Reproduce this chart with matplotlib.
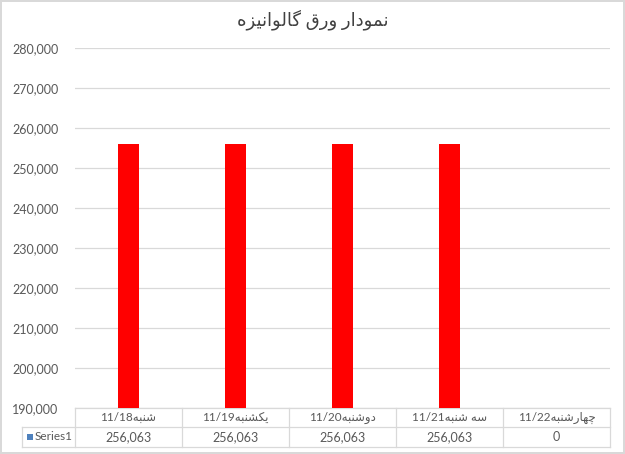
# -*- coding: utf-8 -*-
"""
Column chart with Excel-style data table underneath.
"""

import matplotlib.pyplot as plt
import matplotlib.transforms as mtransforms
import numpy as np
from matplotlib.patches import Rectangle

plt.rcParams['font.family'] = ['Lato', 'DejaVu Sans']

#-----------------------------------------------------------------------------------------------------------------------
# Data
title_fa = 'نمودار ورق گالوانیزه'
days = ['شنبه', 'یکشنبه', 'دوشنبه', 'سه شنبه', 'چهارشنبه']
dates = ['11/18', '11/19', '11/20', '11/21', '11/22']
series_name = 'Series1'
values = [256063, 256063, 256063, 256063, 0]
y_ticks = [190000, 200000, 210000, 220000, 230000, 240000, 250000, 260000, 270000, 280000]

#-----------------------------------------------------------------------------------------------------------------------
# Minimal Persian shaping (matplotlib has no complex text layout)
# letter: (isolated, final, initial, medial); None = does not join to the next letter
FORMS = {
    'ا': ('\uFE8D', '\uFE8E', None, None),
    'ب': ('\uFE8F', '\uFE90', '\uFE91', '\uFE92'),
    'د': ('\uFEA9', '\uFEAA', None, None),
    'ر': ('\uFEAD', '\uFEAE', None, None),
    'ز': ('\uFEAF', '\uFEB0', None, None),
    'س': ('\uFEB1', '\uFEB2', '\uFEB3', '\uFEB4'),
    'ش': ('\uFEB5', '\uFEB6', '\uFEB7', '\uFEB8'),
    'ق': ('\uFED5', '\uFED6', '\uFED7', '\uFED8'),
    'ل': ('\uFEDD', '\uFEDE', '\uFEDF', '\uFEE0'),
    'م': ('\uFEE1', '\uFEE2', '\uFEE3', '\uFEE4'),
    'ن': ('\uFEE5', '\uFEE6', '\uFEE7', '\uFEE8'),
    'ه': ('\uFEE9', '\uFEEA', '\uFEEB', '\uFEEC'),
    'و': ('\uFEED', '\uFEEE', None, None),
    'گ': ('\uFB92', '\uFB93', '\uFB94', '\uFB95'),
    'ک': ('\uFB8E', '\uFB8F', '\uFB90', '\uFB91'),
    'چ': ('\uFB7A', '\uFB7B', '\uFB7C', '\uFB7D'),
    'ی': ('\uFBFC', '\uFBFD', '\uFBFE', '\uFBFF'),
}


def fa(text):
    out = []
    for i, c in enumerate(text):
        if c not in FORMS:
            out.append(c)
            continue
        prev = text[i - 1] if i > 0 else None
        nxt = text[i + 1] if i + 1 < len(text) else None
        iso, fin, ini, med = FORMS[c]
        jp = prev in FORMS and FORMS[prev][2] is not None
        jn = nxt in FORMS and ini is not None
        if jp and jn:
            out.append(med)
        elif jp:
            out.append(fin)
        elif jn:
            out.append(ini)
        else:
            out.append(iso)
    return ''.join(out)[::-1]


#-----------------------------------------------------------------------------------------------------------------------
# Plot
text_col = '#595959'
grid_col = '#d9d9d9'

fig = plt.figure(figsize=(6.25, 4.54), dpi=100)
fig.patch.set_edgecolor(grid_col)
fig.patch.set_linewidth(1.5)
ax = fig.add_axes([75 / 625, 1 - 408 / 454, 535 / 625, 360 / 454])

x = np.arange(len(values))
ax.bar(x, values, width=0.2, color='#ff0000', zorder=3)

ax.set_xlim(-0.5, len(values) - 0.5)
ax.set_ylim(y_ticks[0], y_ticks[-1])
ax.set_yticks(y_ticks)
ax.set_yticklabels([f'{v:,}' for v in y_ticks], fontsize=9, color=text_col)
ax.tick_params(axis='y', length=0, pad=12)
ax.set_xticks([])
ax.grid(axis='y', color=grid_col, linewidth=0.9, zorder=0)
for s in ax.spines.values():
    s.set_visible(False)

fig.text(0.5, 1 - 20 / 454, fa(title_fa), ha='center', va='center', fontsize=13, color='#404040')

# Data table beneath the plot (x in data units, y in pixels below the axes)
px = 1 / 360
trans = mtransforms.blended_transform_factory(ax.transData, ax.transAxes)
row1, row2, row3 = 0, -19 * px, -39 * px
x0, x1 = -0.5, len(values) - 0.5
x_lab = -0.5 - 53 / 107
line_kw = dict(color=grid_col, linewidth=0.9, transform=trans, clip_on=False)
ax.plot([x0, x1], [row1, row1], **line_kw)
ax.plot([x_lab, x1], [row2, row2], **line_kw)
ax.plot([x_lab, x1], [row3, row3], **line_kw)
ax.plot([x_lab, x_lab], [row2, row3], **line_kw)
for b in np.arange(len(values) + 1) - 0.5:
    ax.plot([b, b], [row1, row3], **line_kw)

for i in range(len(values)):
    ax.text(x[i], (row1 + row2) / 2, dates[i] + fa(days[i]), ha='center', va='center',
            fontsize=8.5, color=text_col, transform=trans)
    ax.text(x[i], (row2 + row3) / 2, f'{values[i]:,}', ha='center', va='center',
            fontsize=9, color=text_col, transform=trans)

# legend key for the series row
ax.add_patch(Rectangle((x_lab + 5 / 107, (row2 + row3) / 2 - 3 * px), 6 / 107, 6 * px,
                       facecolor='#4f81bd', edgecolor='none', transform=trans, clip_on=False))
ax.text(x_lab + 13 / 107, (row2 + row3) / 2, series_name, ha='left', va='center',
        fontsize=8.5, color=text_col, transform=trans)

plt.savefig('out.png', dpi=100)
plt.close()
